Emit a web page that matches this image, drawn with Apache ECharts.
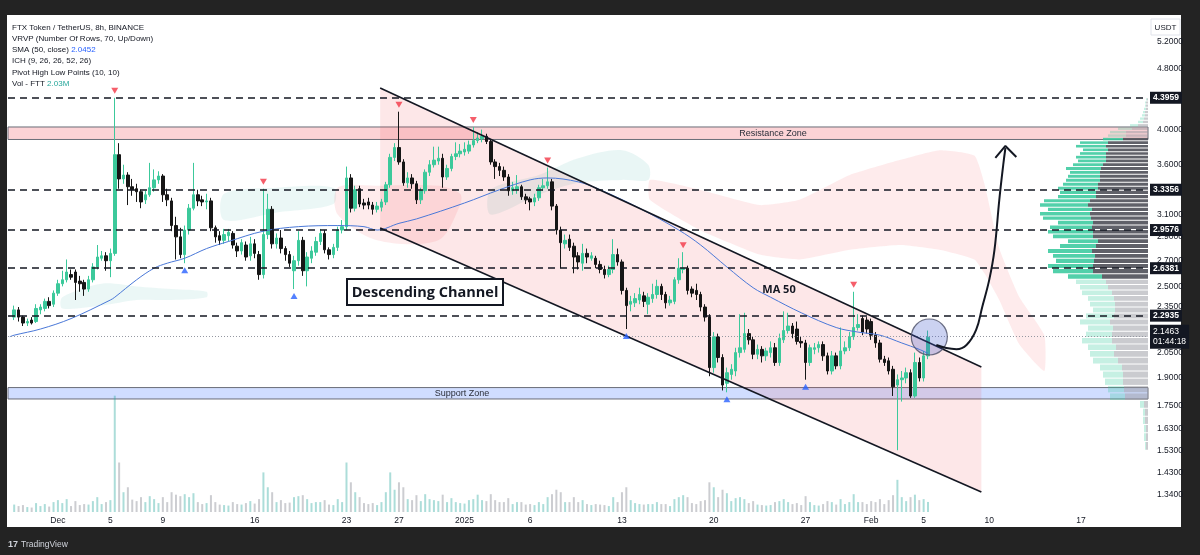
<!DOCTYPE html>
<html><head><meta charset="utf-8">
<script src="https://cdn.jsdelivr.net/npm/echarts/dist/echarts.min.js"></script>
<style>html,body{margin:0;padding:0;background:#232323;}#c{width:1200px;height:555px;}</style>
</head><body><div id="c"></div>
<script>
// ---- time base (8h candles) ----
const startTime = Date.UTC(2024, 10, 27, 16, 0);
const barMs = 8 * 3600 * 1000;
const idxToTime = i => startTime + i * barMs;

// ---- candles ----
const opens = [
2.28,2.33,2.28,2.24,2.26,2.25,2.33,2.34,2.39,2.37,
2.45,2.52,2.55,2.59,2.61,2.54,2.53,2.48,2.55,2.65,
2.72,2.74,2.70,2.76,3.71,3.45,3.49,3.37,3.35,3.32,
3.24,3.29,3.36,3.44,3.48,3.29,3.23,3.00,2.90,2.75,
2.96,3.16,3.29,3.24,3.22,3.23,2.98,2.91,2.87,2.91,
2.93,2.82,2.78,2.83,2.74,2.84,2.75,2.59,2.92,3.15,
2.84,2.89,2.80,2.75,2.62,2.70,2.87,2.62,2.72,2.77,
2.86,2.93,2.79,2.75,2.81,2.96,2.99,3.46,3.16,3.35,
3.21,3.22,3.19,3.15,3.17,3.22,3.39,3.68,3.79,3.63,
3.41,3.46,3.40,3.24,3.33,3.52,3.60,3.64,3.67,3.47,
3.56,3.69,3.72,3.74,3.75,3.82,3.87,3.89,3.92,3.86,
3.63,3.58,3.54,3.47,3.33,3.34,3.37,3.27,3.25,3.22,
3.26,3.36,3.38,3.42,3.18,2.96,2.84,2.88,2.82,2.74,
2.68,2.76,2.72,2.72,2.67,2.63,2.59,2.63,2.75,2.69,
2.47,2.37,2.38,2.40,2.43,2.37,2.41,2.44,2.50,2.44,
2.38,2.39,2.55,2.63,2.64,2.48,2.47,2.44,2.35,2.28,
1.96,2.15,2.02,1.87,1.92,1.94,2.05,2.07,2.17,2.13,
2.04,2.07,2.03,2.05,2.08,1.99,2.13,2.19,2.22,2.20,
2.12,2.11,1.99,2.07,2.08,2.10,2.03,1.94,2.03,1.97,
2.06,2.08,2.15,2.21,2.27,2.26,2.25,2.16,2.11,2.01,
2.00,1.95,1.86,1.89,1.90,1.93,1.80,1.99,1.90,2.03];
const closes = [
2.33,2.28,2.24,2.25,2.24,2.34,2.35,2.39,2.36,2.45,
2.52,2.55,2.61,2.57,2.53,2.52,2.48,2.55,2.65,2.73,
2.74,2.70,2.76,3.71,3.45,3.49,3.37,3.34,3.32,3.22,
3.29,3.36,3.44,3.48,3.29,3.24,3.00,2.90,2.75,2.96,
3.16,3.29,3.23,3.22,3.23,2.98,2.90,2.87,2.92,2.94,
2.83,2.78,2.85,2.73,2.84,2.76,2.59,2.92,3.15,2.84,
2.89,2.80,2.75,2.68,2.70,2.87,2.62,2.73,2.78,2.86,
2.93,2.79,2.75,2.81,2.96,2.99,3.46,3.16,3.34,3.20,
3.19,3.19,3.15,3.18,3.22,3.39,3.68,3.79,3.63,3.41,
3.46,3.40,3.24,3.33,3.52,3.60,3.65,3.67,3.47,3.56,
3.69,3.72,3.75,3.77,3.82,3.87,3.90,3.92,3.86,3.63,
3.58,3.54,3.47,3.33,3.36,3.37,3.27,3.24,3.22,3.26,
3.36,3.38,3.42,3.18,2.96,2.85,2.87,2.81,2.73,2.69,
2.76,2.73,2.74,2.67,2.63,2.59,2.63,2.75,2.69,2.47,
2.36,2.39,2.41,2.44,2.39,2.42,2.44,2.50,2.44,2.38,
2.40,2.55,2.64,2.64,2.47,2.45,2.44,2.35,2.28,1.96,
2.15,2.02,1.86,1.93,1.95,2.05,2.08,2.17,2.13,2.04,
2.07,2.03,2.06,2.08,1.99,2.14,2.19,2.22,2.17,2.12,
2.11,1.99,2.08,2.08,2.10,2.03,1.94,2.03,1.97,2.06,
2.08,2.15,2.21,2.23,2.18,2.20,2.16,2.11,2.01,1.99,
1.94,1.85,1.89,1.90,1.93,1.80,1.99,1.90,2.03,2.1463];
const highs = [
2.36,2.35,2.29,2.27,2.28,2.37,2.37,2.41,2.42,2.47,
2.55,2.62,2.71,2.63,2.63,2.58,2.55,2.58,2.68,2.83,
2.78,2.77,2.80,4.40,3.84,3.60,3.52,3.45,3.40,3.34,
3.33,3.62,3.55,3.53,3.50,3.35,3.26,3.08,2.98,3.00,
3.20,3.62,3.34,3.28,3.30,3.26,3.00,2.95,2.97,2.97,
2.95,2.85,2.88,2.86,2.90,2.88,2.78,3.35,3.30,3.18,
2.93,2.96,2.82,2.78,2.74,2.95,2.90,2.77,2.82,2.90,
2.97,2.96,2.81,2.84,2.99,3.05,3.58,3.50,3.38,3.38,
3.25,3.26,3.22,3.22,3.25,3.42,3.72,3.84,4.22,3.66,
3.52,3.50,3.43,3.36,3.55,3.65,3.80,3.80,3.72,3.60,
3.72,3.85,3.83,3.85,3.87,4.03,3.97,4.00,3.95,3.88,
3.66,3.62,3.58,3.50,3.42,3.49,3.39,3.30,3.27,3.30,
3.39,3.45,3.57,3.45,3.20,2.99,2.92,2.92,2.85,2.77,
2.84,2.80,2.77,2.74,2.70,2.66,2.66,2.88,2.80,2.71,
2.49,2.43,2.45,2.49,2.46,2.45,2.52,2.55,2.52,2.46,
2.43,2.57,2.72,2.77,2.66,2.50,2.52,2.46,2.37,2.30,
2.18,2.17,2.04,1.96,1.98,2.08,2.30,2.31,2.20,2.15,
2.10,2.09,2.08,2.12,2.11,2.17,2.32,2.31,2.24,2.25,
2.15,2.13,2.10,2.11,2.12,2.12,2.05,2.06,2.05,2.21,
2.12,2.18,2.46,2.30,2.29,2.28,2.27,2.18,2.13,2.03,
2.02,1.97,1.92,1.94,1.96,1.95,2.05,2.02,2.06,2.19];
const lows = [
2.26,2.25,2.22,2.22,2.23,2.24,2.30,2.32,2.34,2.35,
2.43,2.50,2.53,2.55,2.40,2.46,2.43,2.46,2.53,2.63,
2.70,2.62,2.57,2.74,3.35,3.40,3.19,3.28,3.22,3.16,
3.20,3.27,3.32,3.40,3.22,3.18,2.95,2.71,2.72,2.68,
2.92,3.14,3.18,3.18,3.15,2.95,2.85,2.83,2.84,2.86,
2.80,2.73,2.75,2.70,2.70,2.72,2.55,2.56,2.88,2.80,
2.80,2.76,2.70,2.65,2.48,2.66,2.58,2.50,2.68,2.74,
2.83,2.76,2.71,2.72,2.78,2.93,2.96,3.12,3.13,3.17,
3.15,3.15,3.10,3.12,3.13,3.19,3.36,3.64,3.60,3.38,
3.36,3.35,3.20,3.20,3.30,3.48,3.57,3.60,3.36,3.44,
3.53,3.65,3.68,3.70,3.72,3.79,3.84,3.85,3.83,3.60,
3.45,3.48,3.43,3.28,3.29,3.30,3.24,3.20,3.14,3.18,
3.23,3.33,3.35,3.14,2.92,2.64,2.80,2.78,2.60,2.63,
2.62,2.68,2.70,2.64,2.60,2.56,2.57,2.60,2.66,2.44,
2.20,2.32,2.35,2.37,2.35,2.30,2.38,2.41,2.40,2.34,
2.36,2.37,2.52,2.60,2.44,2.42,2.40,2.32,2.25,1.91,
1.93,1.99,1.83,1.82,1.89,1.91,2.02,2.05,2.10,2.01,
2.01,1.99,2.00,2.02,1.97,1.97,2.11,2.17,2.14,2.10,
2.08,1.89,1.97,2.04,2.05,2.00,1.92,1.92,1.95,1.95,
2.04,2.06,2.13,2.19,2.16,2.17,2.13,2.08,1.99,1.97,
1.92,1.80,1.53,1.77,1.87,1.79,1.79,1.88,1.88,2.01];
// volume in millions
const volumes = [
1.5,1.2,1.4,1.0,0.9,1.8,1.2,1.6,1.1,2.0,
2.4,1.8,2.6,1.2,2.2,1.4,1.6,1.5,2.2,3.0,
1.6,2.0,2.4,23.5,10,4,5,2.5,2.2,3.0,
2.0,3.2,2.6,1.8,3.0,2.0,4.0,3.5,3.2,3.6,
3.0,3.8,2.0,1.6,1.8,3.4,2.0,1.5,1.4,1.3,
2.0,1.6,1.5,1.8,2.2,1.7,2.6,8.0,5.0,4.0,
2.0,2.4,1.8,1.9,3.0,3.2,3.4,2.6,1.8,2.0,
2.0,2.4,1.5,1.4,2.6,2.0,10.0,6.0,4.0,3.0,
1.8,1.6,1.8,1.4,2.0,4.0,8.0,4.5,6.0,5.0,
2.6,2.4,3.4,2.2,3.6,2.6,2.4,2.2,3.5,2.0,
2.8,2.0,1.8,1.7,2.4,2.6,3.5,2.4,2.2,3.6,
2.4,2.0,2.0,2.8,1.6,2.0,2.0,1.5,1.6,1.4,
2.0,1.6,3.0,3.6,4.5,4.0,2.0,2.0,3.0,2.0,
2.4,1.6,1.4,1.6,1.5,1.4,1.2,3.0,2.0,4.0,
5.0,2.4,1.8,1.6,1.5,1.6,1.6,2.0,1.6,1.6,
1.2,2.6,3.0,3.4,3.0,1.8,1.6,2.2,2.4,6.0,
5.0,3.0,4.5,3.8,2.2,2.8,3.0,2.6,1.8,2.2,
1.5,1.4,1.3,1.4,2.0,2.2,2.6,2.0,1.6,1.8,
1.4,3.2,2.0,1.4,1.3,1.6,2.2,2.0,1.5,2.6,
1.6,2.0,3.6,2.0,2.0,1.6,2.2,2.0,2.6,1.6,
2.4,3.4,6.5,3.0,2.2,3.0,3.5,2.4,2.6,2.03];

// ---- SMA 50 (candle index, value) ----
const smaIdx = [-1,0,6,13,22,23,28,32,35,39,44,49,57,65,74,80,83,88,92,103,111,118,122,129,134,143,152,157,163,169,173,180,188,193,198,203,207,209];
const smaVal = [2.15,2.16,2.20,2.27,2.40,2.42,2.55,2.64,2.68,2.72,2.80,2.86,2.95,2.99,3.00,2.99,2.96,3.02,3.06,3.21,3.34,3.44,3.46,3.42,3.34,3.16,2.96,2.83,2.65,2.49,2.42,2.31,2.21,2.18,2.16,2.11,2.07,2.045];

// ---- pivots ----
const pivotHighIdx = [23,57,88,105,122,153,192];
const pivotLowIdx = [39,64,140,163,181];

// ---- levels / zones ----
const keyLevels = [4.3959, 3.3356, 2.9576, 2.6381, 2.2935];
const priceTicks = [5.2, 4.8, 4.0, 3.6, 3.1, 2.9, 2.7, 2.5, 2.35, 2.2, 2.05, 1.9, 1.75, 1.63, 1.53, 1.43, 1.34];
const lastPrice = 2.1463;
const countdown = '01:44:18';
const resistanceZone = [3.883, 4.031];
const supportZone = [1.784, 1.846];

// ---- x labels ----
const dateTicks = [[2024,11,1],[2024,11,5],[2024,11,9],[2024,11,16],[2024,11,23],[2024,11,27],[2025,0,1],[2025,0,6],[2025,0,13],[2025,0,20],[2025,0,27],[2025,1,1],[2025,1,5],[2025,1,10],[2025,1,17]];
const dateLabels = ['Dec','5','9','16','23','27','2025','6','13','20','27','Feb','5','10','17'];

// ---- channel (candle index, price) ----
const channelIdx = [83.7, 221.2];
const channelTop = [4.531, 1.964];
const channelBot = [2.979, 1.350];

// ---- Ichimoku cloud outlines (candle index, top, bottom) ----
const cloudG1Idx = [11, 20, 28, 36, 44];
const cloudG1Top = [2.42, 2.52, 2.50, 2.48, 2.46];
const cloudG1Bot = [2.34, 2.36, 2.40, 2.40, 2.42];
const cloudG2Idx = [48, 60, 73];
const cloudG2Top = [3.30, 3.36, 3.36];
const cloudG2Bot = [3.05, 3.12, 3.20];
const cloudR1Idx = [74, 83, 97, 102];
const cloudR1Top = [3.36, 3.38, 3.38, 3.30];
const cloudR1Bot = [3.10, 2.87, 2.87, 3.19];
const cloudG3Idx = [109, 120, 129, 139, 145];
const cloudG3Top = [3.34, 3.49, 3.67, 3.76, 3.60];
const cloudG3Bot = [3.10, 3.29, 3.41, 3.44, 3.44];
const cloudR2Idx = [145.4, 156.8, 170.5, 179.6, 191.1, 202.5, 211.6, 219.6, 221.9, 225.3, 229.9, 235.6];
const cloudR2Top = [3.44, 3.34, 3.19, 3.24, 3.49, 3.65, 3.76, 3.70, 3.40, 2.80, 2.42, 2.16];
const cloudR2Bot = [3.24, 2.96, 2.75, 2.71, 2.79, 2.83, 2.79, 2.71, 2.60, 2.40, 2.10, 1.94];

// ---- projection arrow & circle ----
const arrowIdx = [210.9, 213.2, 215.5, 217.8, 220.0, 221.4, 223.0, 224.2, 225.3, 226.2, 226.7];
const arrowPrice = [2.097, 2.078, 2.071, 2.097, 2.194, 2.351, 2.549, 2.789, 3.239, 3.597, 3.785];
const arrowHeadIdx = [224.4, 226.7, 229.2];
const arrowHeadPrice = [3.674, 3.808, 3.685];
const circleIdx = 209.3, circlePrice = 2.148;

// ---- visible range volume profile (70 rows) ----
const vpLow = 1.53, vpStep = 0.041;
const vpUp = [1,2,2,2,2,4,15,16,18,20,22,25,24,28,30,26,25,30,28,22,25,26,30,28,30,34,40,45,38,42,44,36,30,40,45,42,35,48,50,44,48,46,38,36,40,35,34,32,30,35,30,28,30,26,25,30,28,20,18,16,14,8,5,4,3,2,2,1,1,1];
const vpDown = [2,2,2,3,3,4,23,24,25,25,26,30,34,32,36,36,35,38,34,33,33,34,36,40,42,46,55,55,54,53,56,52,50,55,55,56,55,57,58,56,60,58,52,52,50,50,48,48,48,47,45,42,42,42,40,42,40,25,22,22,16,10,5,4,3,3,2,2,2,1];
const vaFrom = 25, vaTo = 57;

// ================= build =================
const UP = '#3cc99b', DOWN = '#161616';
const NONE = 'rgba(0,0,0,0)';
const candleData = opens.map((o, i) => [idxToTime(i), o, closes[i], lows[i], highs[i]]);
const volData = volumes.map((v, i) => ({ value: [idxToTime(i), v], itemStyle: { color: closes[i] >= opens[i] ? 'rgba(38,166,154,0.38)' : 'rgba(120,123,134,0.38)' } }));
const smaData = smaIdx.map((ix, k) => [idxToTime(ix), smaVal[k]]);
const FONT = 'Liberation Sans, Arial, sans-serif';

function polySeries(idxs, tops, bots, color, smooth) {
  return {
    type: 'custom', z: 1, silent: true,
    data: [[idxToTime(idxs[0]), tops[0]]],
    renderItem: (params, api) => {
      const pts = [];
      idxs.forEach((ix, k) => pts.push(api.coord([idxToTime(ix), tops[k]])));
      for (let k = idxs.length - 1; k >= 0; k--) pts.push(api.coord([idxToTime(idxs[k]), bots[k]]));
      return { type: 'polygon', shape: { points: pts, smooth: smooth }, style: { fill: color } };
    }
  };
}

const markLineData = [];
priceTicks.forEach(v => markLineData.push({
  yAxis: v, lineStyle: { color: NONE, width: 0 },
  label: { show: true, position: 'end', distance: 9, formatter: v.toFixed(4), color: '#131722', fontSize: 8.5, fontFamily: FONT }
}));
keyLevels.forEach(v => markLineData.push({
  yAxis: v, lineStyle: { color: '#131722', type: [7, 5], width: 1.6 },
  label: { show: true, position: 'end', distance: 2, formatter: v.toFixed(4), color: '#ffffff', backgroundColor: '#131722', padding: [2, 3, 1, 3], fontSize: 8.5, fontWeight: 'bold', fontFamily: FONT }
}));
markLineData.push({
  yAxis: lastPrice, lineStyle: { color: '#9598a1', type: [1, 2], width: 1 },
  label: { show: true, position: 'end', distance: 2, formatter: lastPrice.toFixed(4) + '\n' + countdown, color: '#ffffff', backgroundColor: '#131722', padding: [2, 3, 2, 3], lineHeight: 10, fontSize: 8.5, fontFamily: FONT }
});
dateTicks.forEach((d, k) => markLineData.push({
  xAxis: Date.UTC(d[0], d[1], d[2]), lineStyle: { color: NONE, width: 0 },
  label: { show: true, position: 'start', distance: 4, formatter: dateLabels[k], color: '#131722', fontSize: 8.5, fontFamily: FONT }
}));

const option = {
  animation: false,
  backgroundColor: '#232323',
  grid: { left: 8, right: 52, top: 17, bottom: 43 },
  xAxis: [
    { type: 'time', min: Date.UTC(2024, 10, 27, 6, 30), max: Date.UTC(2025, 1, 22, 0, 40),
      axisLabel: { show: false }, axisLine: { show: false }, axisTick: { show: false }, splitLine: { show: false } },
    { type: 'value', position: 'top', inverse: true, min: 0, max: 1140, show: false }
  ],
  yAxis: [
    { type: 'log', logBase: 10, min: 1.2714, max: 5.605, position: 'right',
      axisLabel: { show: false }, axisLine: { show: false }, axisTick: { show: false }, splitLine: { show: false } },
    { type: 'value', min: 0, max: 100, show: false }
  ],
  graphic: { elements: [
    { type: 'rect', z: -10, silent: true, shape: { x: 7, y: 15, width: 1174, height: 512 }, style: { fill: '#ffffff' } },
    { type: 'rect', z: 50, shape: { x: 1151, y: 19, width: 29, height: 16 }, style: { fill: '#ffffff', stroke: '#e0e3eb', lineWidth: 1 } },
    { type: 'text', z: 51, x: 1165.5, y: 27.5, style: { text: 'USDT', fill: '#131722', font: '8px ' + FONT, align: 'center', verticalAlign: 'middle' } },
    { type: 'text', z: 50, x: 12, y: 27.5, style: { text: 'FTX Token / TetherUS, 8h, BINANCE', fill: '#131722', font: '8px ' + FONT, verticalAlign: 'middle' } },
    { type: 'text', z: 50, x: 12, y: 38.8, style: { text: 'VRVP (Number Of Rows, 70, Up/Down)', fill: '#131722', font: '8px ' + FONT, verticalAlign: 'middle' } },
    { type: 'text', z: 50, x: 12, y: 50, style: { text: 'SMA (50, close) {b|2.0452}', fill: '#131722', font: '8px ' + FONT, verticalAlign: 'middle', rich: { b: { fill: '#2962ff', font: '8px ' + FONT } } } },
    { type: 'text', z: 50, x: 12, y: 61.2, style: { text: 'ICH (9, 26, 26, 52, 26)', fill: '#131722', font: '8px ' + FONT, verticalAlign: 'middle' } },
    { type: 'text', z: 50, x: 12, y: 72.4, style: { text: 'Pivot High Low Points (10, 10)', fill: '#131722', font: '8px ' + FONT, verticalAlign: 'middle' } },
    { type: 'text', z: 50, x: 12, y: 83.6, style: { text: 'Vol - FTT {g|2.03M}', fill: '#131722', font: '8px ' + FONT, verticalAlign: 'middle', rich: { g: { fill: '#26a69a', font: '8px ' + FONT } } } },
    { type: 'rect', z: 50, shape: { x: 347, y: 279, width: 156, height: 26 }, style: { fill: '#ffffff', stroke: '#131722', lineWidth: 2 } },
    { type: 'text', z: 51, x: 425, y: 292.5, style: { text: 'Descending Channel', fill: '#131722', font: 'bold 14.5px "Open Sans", sans-serif', align: 'center', verticalAlign: 'middle' } },
    { type: 'text', z: 50, x: 779, y: 290, style: { text: 'MA 50', fill: '#131722', font: 'bold 11px "Open Sans", sans-serif', align: 'center', verticalAlign: 'middle' } },
    { type: 'text', z: 50, x: 773, y: 133.5, style: { text: 'Resistance Zone', fill: '#2a2e39', font: '9px ' + FONT, align: 'center', verticalAlign: 'middle' } },
    { type: 'text', z: 50, x: 462, y: 393.5, style: { text: 'Support Zone', fill: '#2a2e39', font: '9px ' + FONT, align: 'center', verticalAlign: 'middle' } },
    { type: 'text', z: 50, x: 8, y: 545, style: { text: '17', fill: '#d1d4dc', font: 'bold 9px ' + FONT, verticalAlign: 'middle' } },
    { type: 'text', z: 50, x: 21, y: 545, style: { text: 'TradingView', fill: '#d1d4dc', font: '8.5px ' + FONT, verticalAlign: 'middle' } }
  ] },
  series: [
    polySeries(cloudG1Idx, cloudG1Top, cloudG1Bot, 'rgba(38,166,154,0.09)', 0.3),
    polySeries(cloudG2Idx, cloudG2Top, cloudG2Bot, 'rgba(38,166,154,0.09)', 0.3),
    polySeries(cloudR1Idx, cloudR1Top, cloudR1Bot, 'rgba(242,54,69,0.10)', 0.3),
    polySeries(cloudG3Idx, cloudG3Top, cloudG3Bot, 'rgba(38,166,154,0.10)', 0.3),
    polySeries(cloudR2Idx, cloudR2Top, cloudR2Bot, 'rgba(242,54,69,0.10)', 0.15),
    polySeries(channelIdx, channelTop, channelBot, 'rgba(242,54,69,0.12)', 0),
    {
      type: 'custom', xAxisIndex: 1, yAxisIndex: 0, z: 1, silent: true,
      data: vpUp.map((u, k) => [u + vpDown[k], vpLow + vpStep * (k + 0.5)]),
      renderItem: (params, api) => {
        const k = params.dataIndex;
        const lo = vpLow + vpStep * k, hi = lo + vpStep;
        const inVA = k >= vaFrom && k <= vaTo;
        const pR = api.coord([0, lo]);
        const pM = api.coord([vpDown[k], hi]);
        const pL = api.coord([vpDown[k] + vpUp[k], hi]);
        const h = Math.max(0.8, pR[1] - pM[1] - 1);
        return { type: 'group', children: [
          { type: 'rect', shape: { x: pM[0], y: pM[1] + 0.5, width: pR[0] - pM[0], height: h }, style: { fill: inVA ? 'rgba(82,84,92,0.92)' : 'rgba(150,152,160,0.5)' } },
          { type: 'rect', shape: { x: pL[0], y: pM[1] + 0.5, width: pM[0] - pL[0], height: h }, style: { fill: inVA ? 'rgba(52,200,155,0.85)' : 'rgba(52,200,155,0.28)' } }
        ] };
      }
    },
    { type: 'bar', yAxisIndex: 1, z: 1, barWidth: 2, silent: true, data: volData },
    {
      type: 'line', z: 1, data: [], silent: true,
      markArea: { silent: true, data: [
        [{ yAxis: resistanceZone[0], itemStyle: { color: 'rgba(242,54,69,0.22)', borderColor: '#6a6d78', borderWidth: 1 } }, { yAxis: resistanceZone[1] }],
        [{ yAxis: supportZone[0], itemStyle: { color: 'rgba(41,98,255,0.22)', borderColor: '#6a6d78', borderWidth: 1 } }, { yAxis: supportZone[1] }]
      ] }
    },
    {
      type: 'candlestick', z: 3, barWidth: 3, silent: true,
      encode: { x: 0, y: [1, 2, 3, 4] },
      data: candleData,
      itemStyle: { color: UP, borderColor: UP, color0: DOWN, borderColor0: DOWN, borderWidth: 1 },
      markLine: { silent: true, symbol: ['none', 'none'], animation: false, data: markLineData }
    },
    { type: 'line', z: 4, data: smaData, smooth: 0.35, showSymbol: false, silent: true, lineStyle: { color: '#4a78d8', width: 1 } },
    { type: 'line', z: 5, silent: true, showSymbol: false, data: channelIdx.map((ix, k) => [idxToTime(ix), channelTop[k]]), lineStyle: { color: '#131722', width: 1.6 } },
    { type: 'line', z: 5, silent: true, showSymbol: false, data: channelIdx.map((ix, k) => [idxToTime(ix), channelBot[k]]), lineStyle: { color: '#131722', width: 1.6 } },
    { type: 'scatter', z: 6, silent: true, symbol: 'triangle', symbolSize: [7, 6], symbolRotate: 180, symbolOffset: [0, -7],
      itemStyle: { color: '#f23645' }, data: pivotHighIdx.map(i => [idxToTime(i), highs[i]]) },
    { type: 'scatter', z: 6, silent: true, symbol: 'triangle', symbolSize: [7, 6], symbolOffset: [0, 7],
      itemStyle: { color: '#2962ff' }, data: pivotLowIdx.map(i => [idxToTime(i), lows[i]]) },
    { type: 'scatter', z: 6, silent: true, symbol: 'circle', symbolSize: 36,
      itemStyle: { color: 'rgba(70,95,205,0.35)', borderColor: '#4b4f66', borderWidth: 1.2 }, data: [[idxToTime(circleIdx), circlePrice]] },
    { type: 'line', z: 7, silent: true, showSymbol: false, smooth: 0.4, data: arrowIdx.map((ix, k) => [idxToTime(ix), arrowPrice[k]]), lineStyle: { color: '#131722', width: 2 } },
    { type: 'line', z: 7, silent: true, showSymbol: false, data: arrowHeadIdx.map((ix, k) => [idxToTime(ix), arrowHeadPrice[k]]), lineStyle: { color: '#131722', width: 2 } }
  ]
};

const chart = echarts.init(document.getElementById('c'), null, { renderer: 'canvas', width: 1200, height: 555 });
chart.setOption(option);
</script>
</body></html>
